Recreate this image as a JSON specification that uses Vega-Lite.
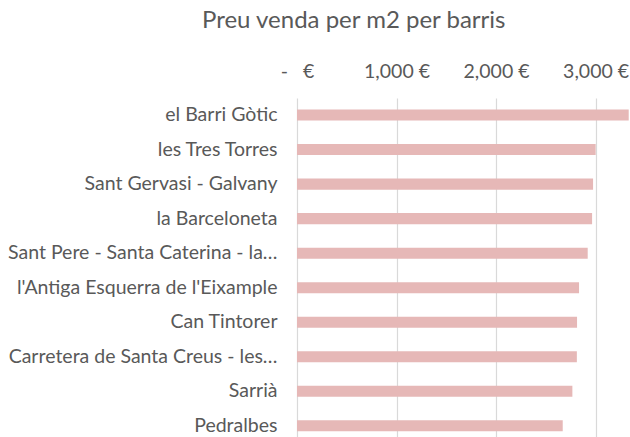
{
  "$schema": "https://vega.github.io/schema/vega-lite/v6.json",
  "width": 333,
  "height": 339,
  "padding": {"left": 297, "top": 98, "right": 0, "bottom": 0},
  "autosize": {"type": "none"},
  "background": "white",
  "view": {"stroke": null},
  "title": {
    "text": "Preu venda per m2 per barris",
    "anchor": "start",
    "frame": "group",
    "dx": -95,
    "offset": 28,
    "fontSize": 24,
    "font": "Lato",
    "fontWeight": "normal",
    "color": "#595959"
  },
  "data": {
    "values": [
      {"barri": "el Barri Gòtic", "preu": 3333},
      {"barri": "les Tres Torres", "preu": 3001},
      {"barri": "Sant Gervasi - Galvany", "preu": 2975},
      {"barri": "la Barceloneta", "preu": 2965},
      {"barri": "Sant Pere - Santa Caterina - la…", "preu": 2921},
      {"barri": "l'Antiga Esquerra de l'Eixample", "preu": 2834},
      {"barri": "Can Tintorer", "preu": 2814},
      {"barri": "Carretera de Santa Creus - les…", "preu": 2812},
      {"barri": "Sarrià", "preu": 2767},
      {"barri": "Pedralbes", "preu": 2670}
    ]
  },
  "mark": {"type": "bar", "color": "#E6B8B7", "clip": true},
  "encoding": {
    "y": {
      "field": "barri",
      "type": "nominal",
      "sort": null,
      "scale": {"paddingInner": 0.68, "paddingOuter": 0.249, "align": 0.67},
      "axis": {
        "title": null,
        "ticks": false,
        "domain": false,
        "grid": false,
        "labelFont": "Lato",
        "labelFontSize": 19.5,
        "labelColor": "#595959",
        "labelPadding": 20,
        "labelLimit": 400
      }
    },
    "x": {
      "field": "preu",
      "type": "quantitative",
      "scale": {"domain": [0, 3346], "nice": false, "zero": true},
      "axis": {
        "orient": "top",
        "title": null,
        "values": [0, 1000, 2000, 3000],
        "labelExpr": "datum.value == 0 ? '-\u00a0\u00a0\u00a0€' : format(datum.value, ',') + '\u00a0€'",
        "labelFlush": false,
        "labelOverlap": false,
        "ticks": false,
        "domain": false,
        "grid": true,
        "gridColor": "#D9D9D9",
        "gridWidth": 1.2,
        "labelFont": "Lato",
        "labelFontSize": 19.5,
        "labelColor": "#595959",
        "labelPadding": 17
      }
    }
  }
}
